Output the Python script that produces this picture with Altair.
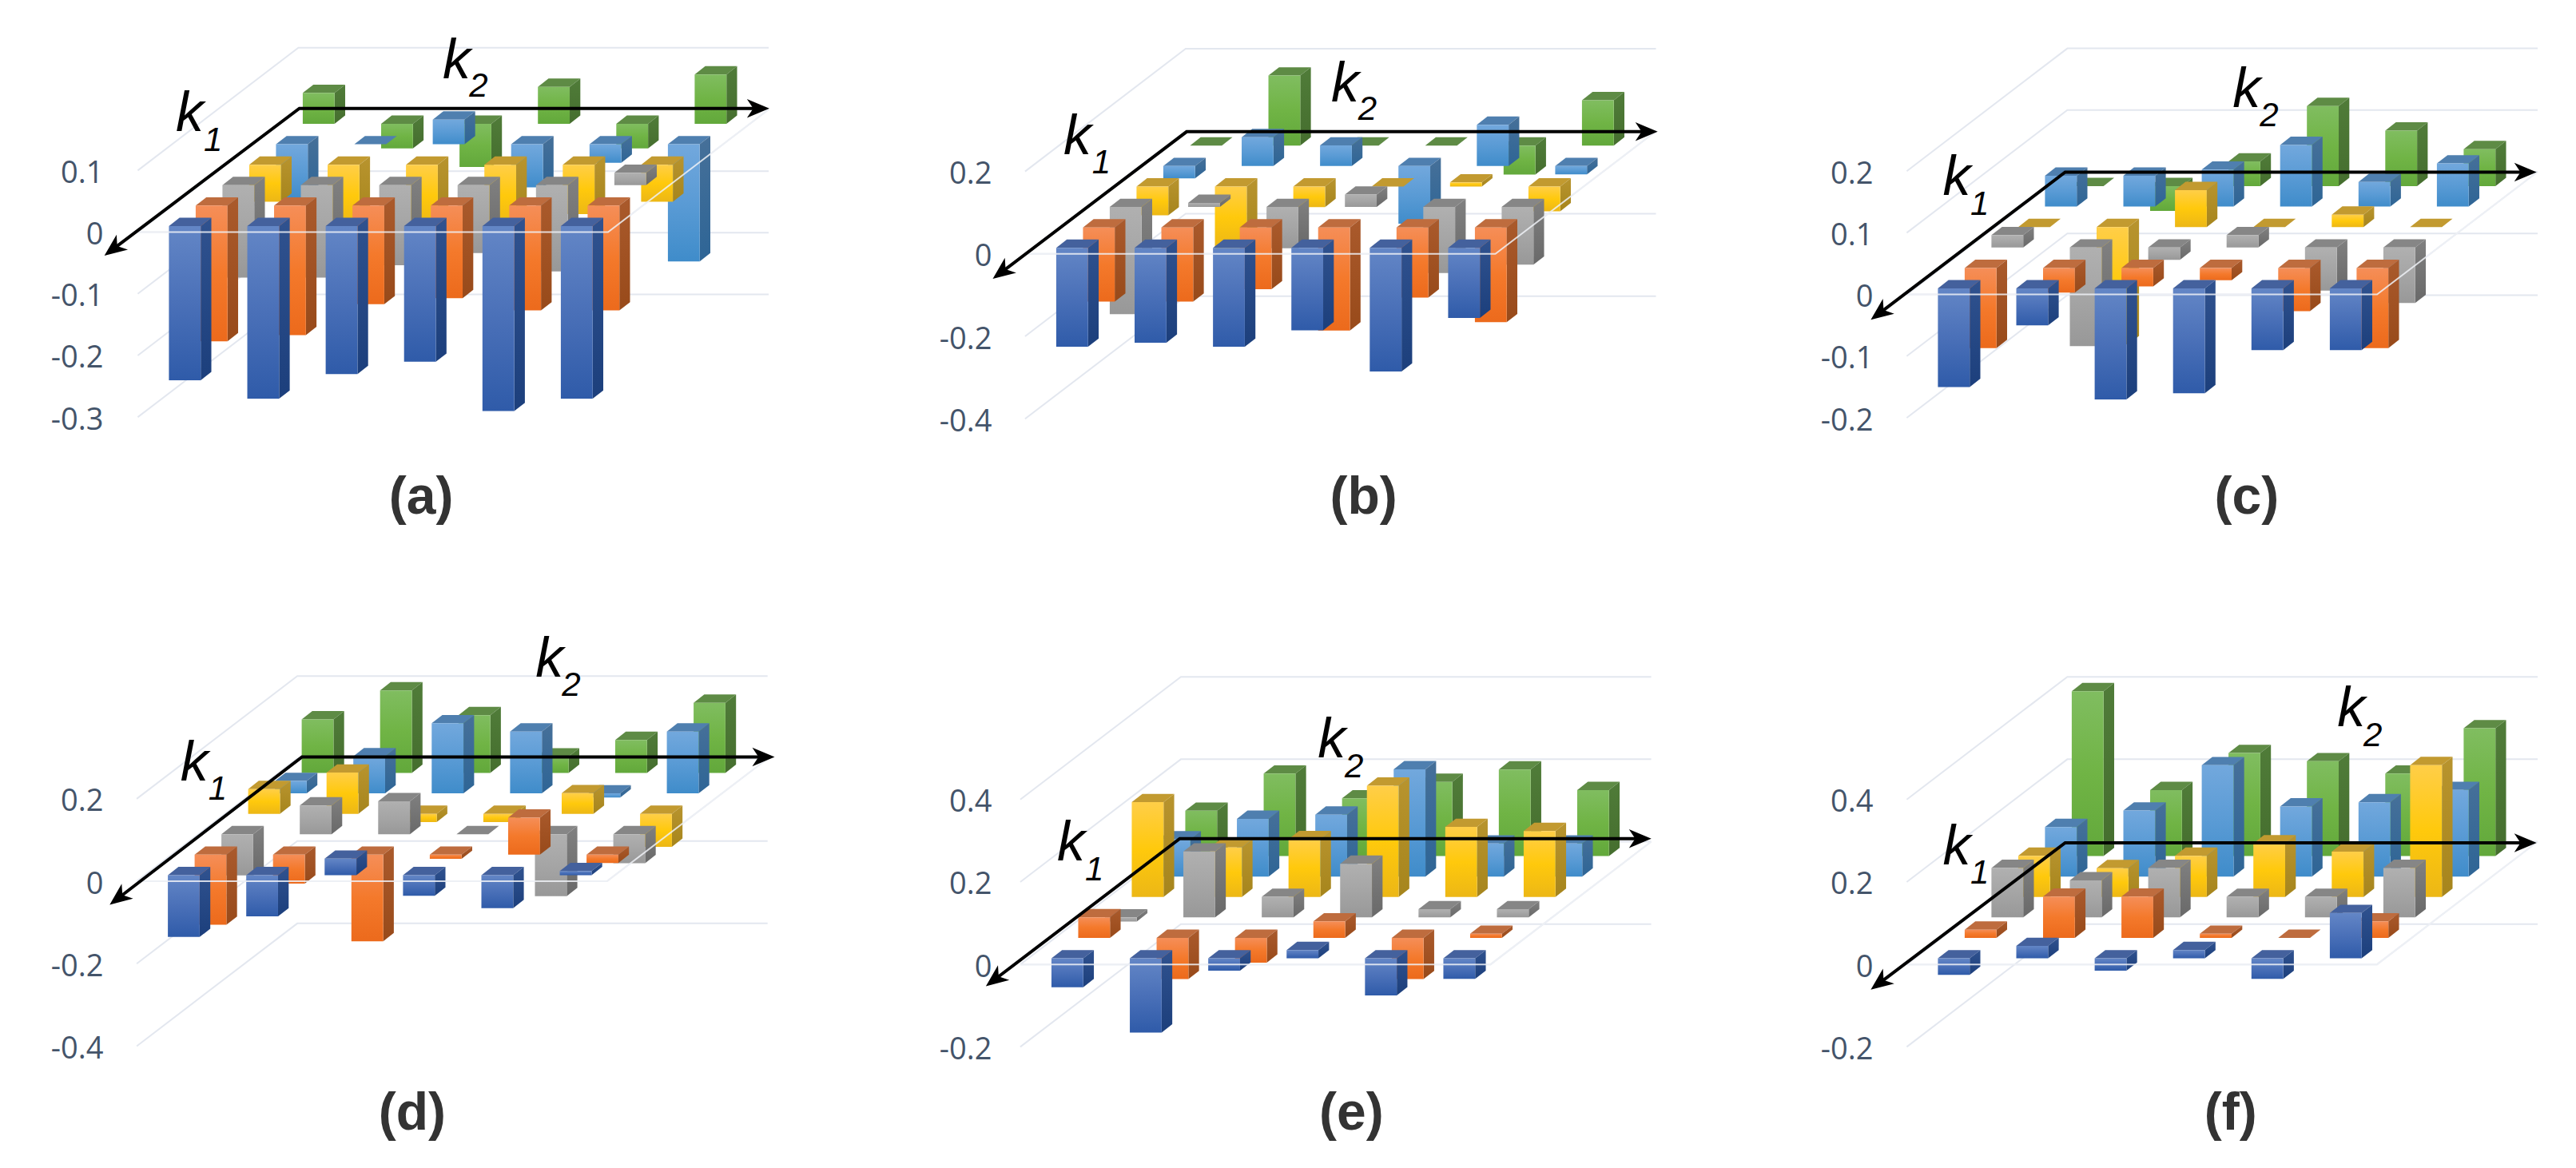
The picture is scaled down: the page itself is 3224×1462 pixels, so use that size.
import math
import altair as alt
import pandas as pd

# ---- values: rows run front (blue) to back (green), six k2 columns
a_blue = [-0.25, -0.28, -0.24, -0.22, -0.30, -0.28]
a_orange = [-0.22, -0.21, -0.16, -0.15, -0.17, -0.17]
a_gray = [-0.15, -0.15, -0.13, -0.11, -0.14, 0.02]
a_yellow = [-0.06, -0.10, -0.10, -0.10, -0.08, -0.06]
a_sky = [-0.09, 0.0, 0.04, -0.07, -0.03, -0.19]
a_green = [0.05, -0.04, -0.07, 0.06, -0.04, 0.08]

b_blue = [-0.24, -0.23, -0.24, -0.20, -0.30, -0.17]
b_orange = [-0.18, -0.18, -0.15, -0.25, -0.17, -0.23]
b_gray = [-0.26, 0.01, -0.10, 0.03, -0.16, -0.14]
b_yellow = [-0.07, -0.15, -0.05, 0.0, 0.01, -0.06]
b_sky = [-0.03, 0.07, 0.05, -0.14, 0.10, -0.02]
b_green = [0.0, 0.17, 0.0, 0.0, -0.07, 0.11]

c_blue = [-0.16, -0.06, -0.18, -0.17, -0.10, -0.10]
c_orange = [-0.13, -0.04, -0.03, -0.02, -0.07, -0.13]
c_gray = [0.02, -0.16, -0.02, 0.02, -0.07, -0.09]
c_yellow = [0.0, -0.19, 0.06, 0.0, 0.02, 0.0]
c_sky = [0.05, 0.05, 0.06, 0.10, 0.04, 0.07]
c_green = [0.0, -0.04, 0.04, 0.13, 0.09, 0.06]

d_blue = [-0.15, -0.10, 0.04, -0.05, -0.08, 0.01]
d_orange = [-0.17, -0.07, -0.21, -0.01, 0.09, -0.02]
d_gray = [-0.10, 0.07, 0.08, 0.0, -0.15, -0.07]
d_yellow = [0.06, 0.10, -0.02, -0.02, 0.05, -0.08]
d_sky = [0.03, 0.09, 0.17, 0.15, -0.01, 0.15]
d_green = [0.13, 0.20, 0.14, 0.04, 0.08, 0.17]

e_blue = [-0.07, -0.18, -0.03, 0.02, -0.09, -0.05]
e_orange = [0.05, -0.10, -0.06, 0.04, -0.10, 0.01]
e_gray = [-0.01, 0.16, 0.05, 0.13, 0.02, 0.02]
e_yellow = [0.23, 0.12, 0.14, 0.27, 0.17, 0.16]
e_sky = [0.09, 0.14, 0.15, 0.26, 0.08, 0.08]
e_green = [0.11, 0.20, 0.14, 0.18, 0.21, 0.16]

f_blue = [-0.04, 0.03, -0.03, 0.02, -0.05, 0.11]
f_orange = [0.02, 0.10, 0.10, 0.01, 0.0, 0.04]
f_gray = [0.12, 0.09, 0.12, 0.05, 0.05, 0.12]
f_yellow = [0.10, 0.07, 0.10, 0.13, 0.11, 0.32]
f_sky = [0.12, 0.16, 0.27, 0.17, 0.18, 0.21]
f_green = [0.40, 0.16, 0.25, 0.23, 0.20, 0.31]

a_ticks = [0.1, 0, -0.1, -0.2, -0.3]
b_ticks = [0.2, 0, -0.2, -0.4]
c_ticks = [0.2, 0.1, 0, -0.1, -0.2]
d_ticks = [0.2, 0, -0.2, -0.4]
e_ticks = [0.4, 0.2, 0, -0.2]
f_ticks = [0.4, 0.2, 0, -0.2]

# ---- styles
FRONT = [
    ["#6386C6", "#4A70B8", "#2F5BA9"],
    ["#F58E58", "#F4792B", "#EC6A1C"],
    ["#B0B0B0", "#A5A5A5", "#989898"],
    ["#FFCE48", "#FFC90C", "#ECB716"],
    ["#72A8DD", "#5A9BD5", "#3F8CCA"],
    ["#80BD60", "#70B445", "#62A83B"],
]
SIDE = [
    ["#30528F", "#1C3F7C"],
    ["#AA5A2C", "#984A1A"],
    ["#808080", "#696969"],
    ["#B8942E", "#A6851C"],
    ["#467099", "#2E6596"],
    ["#507C39", "#456E2E"],
]
TOP = ["#44619D", "#BE6C3E", "#868686", "#C29A30", "#4F7FAF", "#5E8B45"]
GRID = "#E3E7EF"
LABEL = "#44546A"
CAP = "#333333"

# ---- projection of the 3-D chart, in pixels
COL = 98.1
RX, RY = 33.5, 25.6
BW, BDX, BDY = 39.8, 13.3, 10.4
INX, INY = 39.0, 7.6
W, H = 810, 652
T0, T1 = 8, 790
CL = [160, 1270, 2380]
SX = [1.508, 1.508, 1.488]
SY = 2.306
OX = [0, 1080, 2170]
OY = [0, 780]


def grad(cols):
    n = len(cols) - 1
    return alt.LinearGradient(
        gradient="linear", x1=0, x2=0, y1=0, y2=1,
        stops=[alt.GradientStop(color=c, offset=i / n) for i, c in enumerate(cols)],
    )


def panel(letter, rows, ticks, col, row, xfz, yfz, per_unit, pad, o, tip, endx, k1, k1s, k2, k2s, cap):
    sx, ox = SX[col], OX[col]
    oy = OY[row]
    top = T0 if row == 0 else T1
    px = lambda z: ox + z / sx
    py = lambda z: oy + z / SY
    xf, yf = px(xfz), py(yfz)
    S = per_unit
    ex = lambda page: (page - xf) / COL
    ey = lambda page: (yf - page) / S
    xs = alt.Scale(domain=[(CL[col] - xf) / COL, (CL[col] + W - xf) / COL], nice=False, zero=False)
    hi = (yf - top) / S
    ys = alt.Scale(domain=[hi - H / S, hi], nice=False, zero=False)
    X = alt.X("x:Q", scale=xs, axis=None)
    Y = alt.Y("y:Q", scale=ys, title=None, axis=alt.Axis(
        values=ticks, domain=False, ticks=False, grid=False, labelPadding=pad, labelOffset=4,
        labelFont="Open Sans", labelFontSize=38, labelColor=LABEL,
        labelExpr="datum.value + ''", minExtent=152, maxExtent=152, labelOverlap=False))

    # wall and floor lines
    g = []
    for t in ticks:
        pts = [(0, t), (6 * RX / COL, t + 6 * RY / S), (6 * RX / COL + 6, t + 6 * RY / S)]
        g += [{"x": p[0], "y": p[1], "l": str(t), "o": i} for i, p in enumerate(pts)]
    fl = [(0, 0), (6, 0), (6 + 6 * RX / COL, 6 * RY / S)]
    floor = [{"x": p[0], "y": p[1], "l": "f", "o": i} for i, p in enumerate(fl)]

    layers = [
        alt.Chart(pd.DataFrame(g)).mark_line(color=GRID, strokeWidth=2).encode(
            x=X, y=Y, detail="l:N", order="o:Q"),
        alt.Chart(pd.DataFrame(floor)).mark_line(color=GRID, strokeWidth=2).encode(
            x=X, y=Y, detail="l:N", order="o:Q"),
    ]

    # bars, back row first
    for r in range(5, -1, -1):
        fr, sd, tp = [], [], []
        for c, v in enumerate(rows[r]):
            x0 = INX + c * COL + r * RX
            base = INY + r * RY
            up = base + max(v, 0) * S
            dn = base + min(v, 0) * S
            fr.append({"x": x0 / COL, "x2": (x0 + BW) / COL, "y": up / S, "y2": dn / S, "value": v})
            for dx, dy in [(0, 0), (BDX, BDY)]:
                sd.append({"b": c, "x": (x0 + BW + dx) / COL, "y": (up + dy) / S, "y2": (dn + dy) / S})
                tp.append({"b": c, "x": (x0 + dx) / COL, "x2": (x0 + BW + dx) / COL, "y": (up + dy) / S})
        layers.append(alt.Chart(pd.DataFrame(tp)).mark_area(orient="horizontal", color=TOP[r]).encode(
            y=Y, x=X, x2="x2:Q", detail="b:N"))
        layers.append(alt.Chart(pd.DataFrame(sd)).mark_area(color=grad(SIDE[r])).encode(
            x=X, y=Y, y2="y2:Q", detail="b:N"))
        layers.append(alt.Chart(pd.DataFrame(fr)).mark_rect(color=grad(FRONT[r])).encode(
            x=X, x2="x2:Q", y=Y, y2="y2:Q"))

    # floor edge seen over the bars
    layers.append(alt.Chart(pd.DataFrame(floor)).mark_line(color="#EEF1F6", strokeWidth=2, opacity=0.85).encode(
        x=X, y=Y, detail="l:N", order="o:Q"))

    # arrows
    ax, ay = px(o[0]), py(o[1])
    tx, ty = px(tip[0]), py(tip[1])
    ee = px(endx)
    ang = math.degrees(math.atan2(ty - ay, tx - ax)) % 360
    shaft = pd.DataFrame([
        {"x": ex(tx - 14 * math.cos(math.radians(ang))), "y": ey(ty - 14 * math.sin(math.radians(ang))), "o": 0},
        {"x": ex(ax), "y": ey(ay), "o": 1},
        {"x": ex(ee - 14), "y": ey(ay), "o": 2},
    ])
    layers.append(alt.Chart(shaft).mark_line(color="black", strokeWidth=4, strokeJoin="miter").encode(
        x=X, y=Y, order="o:Q"))
    head = "M0 0 L-1 -0.42 L-0.72 0 L-1 0.42 Z"
    for hx, hy, an in [(tx, ty, ang), (ee, ay, 0)]:
        layers.append(alt.Chart(pd.DataFrame([{"x": ex(hx), "y": ey(hy)}])).mark_point(
            shape=head, filled=True, size=3136, angle=an, color="black", opacity=1).encode(x=X, y=Y))

    # labels
    big = pd.DataFrame([{"x": ex(px(p[0])), "y": ey(py(p[1])), "t": "k"} for p in (k1, k2)])
    sub = pd.DataFrame([
        {"x": ex(px(k1s[0])), "y": ey(py(k1s[1])), "t": "1"},
        {"x": ex(px(k2s[0])), "y": ey(py(k2s[1])), "t": "2"},
    ])
    capt = pd.DataFrame([{"x": ex(px(cap[0])), "y": ey(py(cap[1])), "t": "(" + letter + ")"}])
    layers.append(alt.Chart(big).mark_text(font="Liberation Sans", fontStyle="italic", fontSize=70,
                                           color="black", baseline="middle").encode(x=X, y=Y, text="t:N"))
    layers.append(alt.Chart(sub).mark_text(font="Liberation Sans", fontStyle="italic", fontSize=42,
                                           color="black", baseline="middle").encode(x=X, y=Y, text="t:N"))
    layers.append(alt.Chart(capt).mark_text(font="Liberation Sans", fontWeight="bold", fontSize=66,
                                            color=CAP, baseline="middle").encode(x=X, y=Y, text="t:N"))
    return alt.layer(*layers).properties(width=W, height=H)


pa = panel("a", [a_blue, a_orange, a_gray, a_yellow, a_sky, a_green], a_ticks, 0, 0, 260, 670, 772, 31,
           (565, 313), (197, 738), 1452, (358, 330), (402, 405), (862, 178), (903, 250), (795, 1437))
pb = panel("b", [b_blue, b_orange, b_gray, b_yellow, b_sky, b_green], b_ticks, 1, 0, 306, 733, 516, 29,
           (611, 380), (245, 805), 1500, (405, 397), (450, 470), (910, 245), (952, 317), (945, 1437))
pc = panel("c", [c_blue, c_orange, c_gray, c_yellow, c_sky, c_green], c_ticks, 2, 0, 322, 850, 772, 36,
           (617, 497), (255, 923), 1495, (415, 515), (458, 590), (955, 260), (997, 335), (955, 1437))
pd_ = panel("d", [d_blue, d_orange, d_gray, d_yellow, d_sky, d_green], d_ticks, 0, 1, 258, 745, 516, 31,
            (570, 386), (207, 813), 1462, (367, 405), (411, 480), (1037, 105), (1078, 180), (778, 1415))
pe = panel("e", [e_blue, e_orange, e_gray, e_yellow, e_sky, e_green], e_ticks, 1, 1, 297, 985, 516, 29,
           (598, 622), (232, 1048), 1488, (393, 637), (437, 712), (885, 340), (927, 415), (922, 1415))
pf = panel("f", [f_blue, f_orange, f_gray, f_yellow, f_sky, f_green], f_ticks, 2, 1, 322, 985, 516, 36,
           (617, 634), (255, 1058), 1495, (415, 648), (458, 722), (1150, 250), (1190, 325), (925, 1415))

chart = alt.vconcat(
    alt.hconcat(pa, pb, pc, spacing=148),
    alt.hconcat(pd_, pe, pf, spacing=148),
    spacing=130,
).properties(padding=0, background="white").configure_view(strokeWidth=0)

chart.save("out.html", embed_options={"renderer": "svg", "actions": False})
